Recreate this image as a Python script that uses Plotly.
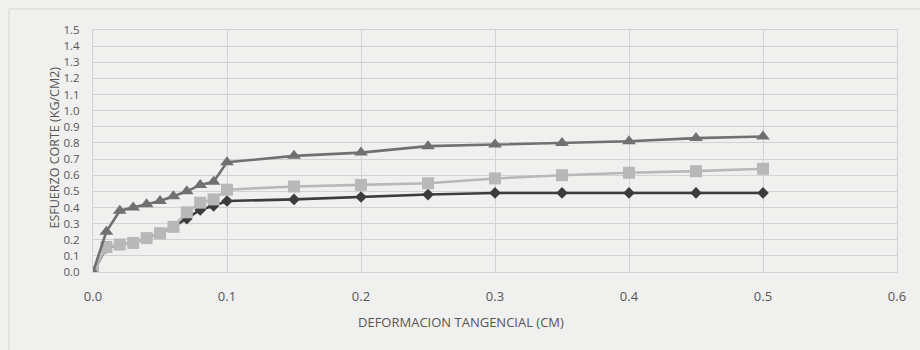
import plotly.graph_objects as go

# Tangential deformation (cm)
deformacion = [0.0, 0.01, 0.02, 0.03, 0.04, 0.05, 0.06, 0.07, 0.08, 0.09, 0.10,
               0.15, 0.20, 0.25, 0.30, 0.35, 0.40, 0.45, 0.50]

# Shear stress (kg/cm2) for each normal load
esfuerzo_1 = [0.0, 0.15, 0.17, 0.18, 0.21, 0.24, 0.28, 0.33, 0.385, 0.41, 0.44,
              0.45, 0.465, 0.48, 0.49, 0.49, 0.49, 0.49, 0.49]
esfuerzo_2 = [0.0, 0.155, 0.17, 0.18, 0.21, 0.24, 0.28, 0.37, 0.43, 0.45, 0.51,
              0.53, 0.54, 0.55, 0.58, 0.60, 0.615, 0.625, 0.64]
esfuerzo_3 = [0.0, 0.25, 0.38, 0.40, 0.42, 0.44, 0.47, 0.50, 0.54, 0.56, 0.68,
              0.72, 0.74, 0.78, 0.79, 0.80, 0.81, 0.83, 0.84]

x_ticks = [0.0, 0.1, 0.2, 0.3, 0.4, 0.5, 0.6]
y_ticks = [round(i * 0.1, 1) for i in range(16)]

font_name = "Open Sans, Lato, sans-serif"
text_color = "#565656"
bg = "#f0f0ee"

fig = go.Figure()
fig.add_trace(go.Scatter(
    x=deformacion, y=esfuerzo_1, mode="lines+markers",
    line=dict(color="#3c3c3c", width=2.6),
    marker=dict(symbol="diamond", size=9, color="#3c3c3c"),
    showlegend=False))
fig.add_trace(go.Scatter(
    x=deformacion, y=esfuerzo_2, mode="lines+markers",
    line=dict(color="#b8b8b8", width=2.6),
    marker=dict(symbol="square", size=12, color="#b8b8b8"),
    showlegend=False))
fig.add_trace(go.Scatter(
    x=deformacion, y=esfuerzo_3, mode="lines+markers",
    line=dict(color="#707070", width=2.6),
    marker=dict(symbol="triangle-up", size=12, color="#707070"),
    showlegend=False))

# Plot area spans 93..897 px horizontally and 30..272 px vertically
def px_to_paper_x(px):
    return (px - 93) / 804

def py_to_paper_y(py):
    return (272 - py) / 242

# Chart area frame
fig.add_shape(type="rect", xref="paper", yref="paper",
              x0=px_to_paper_x(9), x1=px_to_paper_x(930),
              y0=py_to_paper_y(360), y1=py_to_paper_y(9),
              line=dict(color="#d4d4d4", width=1), layer="below")

fig.add_annotation(text="DEFORMACION TANGENCIAL (CM)", xref="paper", yref="paper",
                   x=px_to_paper_x(461), y=py_to_paper_y(333),
                   showarrow=False, font=dict(family=font_name, size=13, color=text_color))
fig.add_annotation(text="ESFUERZO CORTE (KG/CM2)", xref="paper", yref="paper",
                   x=px_to_paper_x(43), y=py_to_paper_y(148), textangle=-90,
                   showarrow=False, font=dict(family=font_name, size=12.5, color=text_color))

axis_common = dict(
    showgrid=True, gridcolor="#d2d2d2", gridwidth=1,
    showline=True, linecolor="#d2d2d2", linewidth=1, mirror=True,
    zeroline=False, ticks="", tickformat=".1f",
)

fig.update_layout(
    width=920, height=350,
    margin=dict(l=93, r=23, t=30, b=78),
    paper_bgcolor=bg, plot_bgcolor=bg,
    xaxis=dict(range=[0, 0.6], tickvals=x_ticks, ticklabelstandoff=12,
               tickfont=dict(family=font_name, size=13, color=text_color), **axis_common),
    yaxis=dict(range=[0, 1.5], tickvals=y_ticks, ticklabelstandoff=10,
               tickfont=dict(family=font_name, size=11.5, color=text_color), **axis_common),
)

fig.write_html("out.html")
